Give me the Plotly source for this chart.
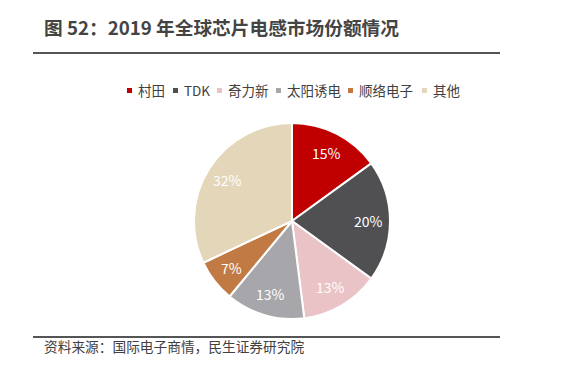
import math
import plotly.graph_objects as go

categories = ["村田", "TDK", "奇力新", "太阳诱电", "顺络电子", "其他"]
shares = [15, 20, 13, 13, 7, 32]
colors = ["#C00000", "#505052", "#EAC3C7", "#A7A6AA", "#C17A44", "#E4D6B8"]
title_text = "图 52：2019 年全球芯片电感市场份额情况"
source_text = "资料来源：国际电子商情，民生证券研究院"

# the page body has an 8px margin; figure is sized to fit the 567x377 window
OFF = 8
W, H = 567 - 2 * OFF, 377 - 2 * OFF
FONT = "Noto Sans CJK SC, Microsoft YaHei, sans-serif"


def px(x):
    return (x - OFF) / W


def py(y):
    return 1 - (y - OFF) / H


CX, CY, R = 292, 221, 98  # pie centre / radius in page pixels

fig = go.Figure()
fig.add_trace(go.Pie(
    labels=categories,
    values=shares,
    sort=False,
    direction="clockwise",
    rotation=0,
    marker=dict(colors=colors, line=dict(color="white", width=2)),
    textinfo="none",
    domain=dict(x=[px(CX - R), px(CX + R)], y=[py(CY + R), py(CY - R)]),
    showlegend=False,
    hoverinfo="label+percent",
))

shapes = [
    dict(type="line", xref="paper", yref="paper", x0=px(33), x1=px(500),
         y0=py(53), y1=py(53), line=dict(color="#555555", width=2)),
    dict(type="line", xref="paper", yref="paper", x0=px(33), x1=px(500),
         y0=py(337), y1=py(337), line=dict(color="#555555", width=2)),
]
annotations = [
    dict(text="<b>" + title_text + "</b>", xref="paper", yref="paper",
         x=px(42), y=py(27), xanchor="left", yanchor="middle", showarrow=False,
         font=dict(size=18.7, color="#444444", family=FONT)),
    dict(text=source_text, xref="paper", yref="paper",
         x=px(42), y=py(346), xanchor="left", yanchor="middle", showarrow=False,
         font=dict(size=13.7, color="#404040", family=FONT)),
]

# percentage labels placed along each slice's mid-angle
total = sum(shares)
cum = 0
for v in shares:
    mid = (cum + v / 2) / total * 2 * math.pi
    cum += v
    rr = 0.78 * R
    lx = CX + rr * math.sin(mid)
    ly = CY - rr * math.cos(mid)
    annotations.append(dict(text=f"{round(v / total * 100)}%", xref="paper", yref="paper",
                            x=px(lx), y=py(ly), xanchor="center", yanchor="middle",
                            showarrow=False,
                            font=dict(size=14, color="white", family=FONT)))

# custom legend (marker squares + labels)
legend_x = [127, 173, 217, 276, 348, 422]
for cat, col, lx in zip(categories, colors, legend_x):
    shapes.append(dict(type="rect", xref="paper", yref="paper",
                       x0=px(lx), x1=px(lx + 5), y0=py(93), y1=py(88),
                       fillcolor=col, line=dict(width=0)))
    annotations.append(dict(text=cat, xref="paper", yref="paper",
                            x=px(lx + 9), y=py(90), xanchor="left", yanchor="middle",
                            showarrow=False, font=dict(size=13.5, color="#404040", family=FONT)))

fig.update_layout(
    width=W, height=H,
    margin=dict(l=0, r=0, t=0, b=0),
    paper_bgcolor="white", plot_bgcolor="white",
    shapes=shapes, annotations=annotations,
)

fig.write_html("out.html")
